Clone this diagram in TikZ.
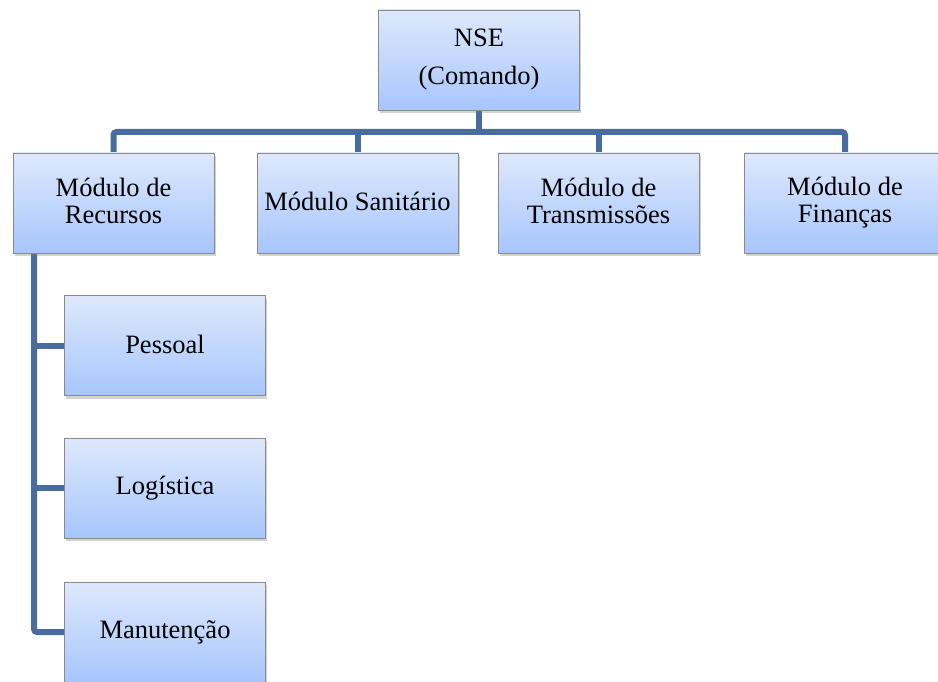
\documentclass[tikz,border=0pt]{standalone}
\usepackage{fontspec}
\setmainfont{Liberation Serif}
\usepackage{xcolor}
\usetikzlibrary{shadows, backgrounds}

\definecolor{boxtop}{HTML}{DEE8FB}
\definecolor{boxbottom}{HTML}{A7C6FD}
\definecolor{boxline}{HTML}{8A8A8A}
\definecolor{linkblue}{HTML}{476C9D}

\newcommand{\apoio}{\rule[-4pt]{0pt}{23pt}}

\begin{document}
\begin{tikzpicture}[x=1pt, y=-1pt,
        modulo/.style={draw=boxline, line width=0.8pt, top color=boxtop, bottom color=boxbottom,
            minimum width=201pt, minimum height=100pt, inner sep=0pt, align=center,
            font=\rmfamily\fontsize{26.5}{27}\selectfont,
            execute at begin node=\apoio, execute at end node=\apoio,
            drop shadow={shadow xshift=1.5pt, shadow yshift=-3pt, opacity=0.35}},
        ligacao/.style={draw=linkblue, line width=6pt}]
        \useasboundingbox (0,0) rectangle (938,682);

        \node[modulo] (nse) at (479,60) {NSE\\[11pt]\apoio(Comando)};

        \node[modulo] (recursos) at (113.5,203) {Módulo de\\Recursos};
        \node[modulo] (sanitario) at (357.5,203) {Módulo Sanitário};
        \node[modulo] (transmissoes) at (598.5,203) {Módulo de\\Transmissões};
        \node[modulo] (financas) at (845,203) {Módulo de\\Finanças};

        \node[modulo] (pessoal) at (165,345.5) {Pessoal};
        \node[modulo] (logistica) at (165,488) {Logística};
        \node[modulo] (manutencao) at (165,632) {Manutenção};

        \coordinate (barra) at (479,132);
        \coordinate (espinha) at (34,253);

        \begin{scope}[on background layer]
            \draw[ligacao, rounded corners=3pt] (recursos.north) |- (financas.north |- barra) -- (financas.north);
            \draw[ligacao] (nse.south) -- (barra);
            \draw[ligacao] (sanitario.north) -- (sanitario.north |- barra);
            \draw[ligacao] (transmissoes.north) -- (transmissoes.north |- barra);

            \draw[ligacao, rounded corners=3pt] (espinha) |- (manutencao.west);
            \draw[ligacao] (pessoal.west) -- (pessoal.west -| espinha);
            \draw[ligacao] (logistica.west) -- (logistica.west -| espinha);
        \end{scope}
    \end{tikzpicture}
\end{document}
